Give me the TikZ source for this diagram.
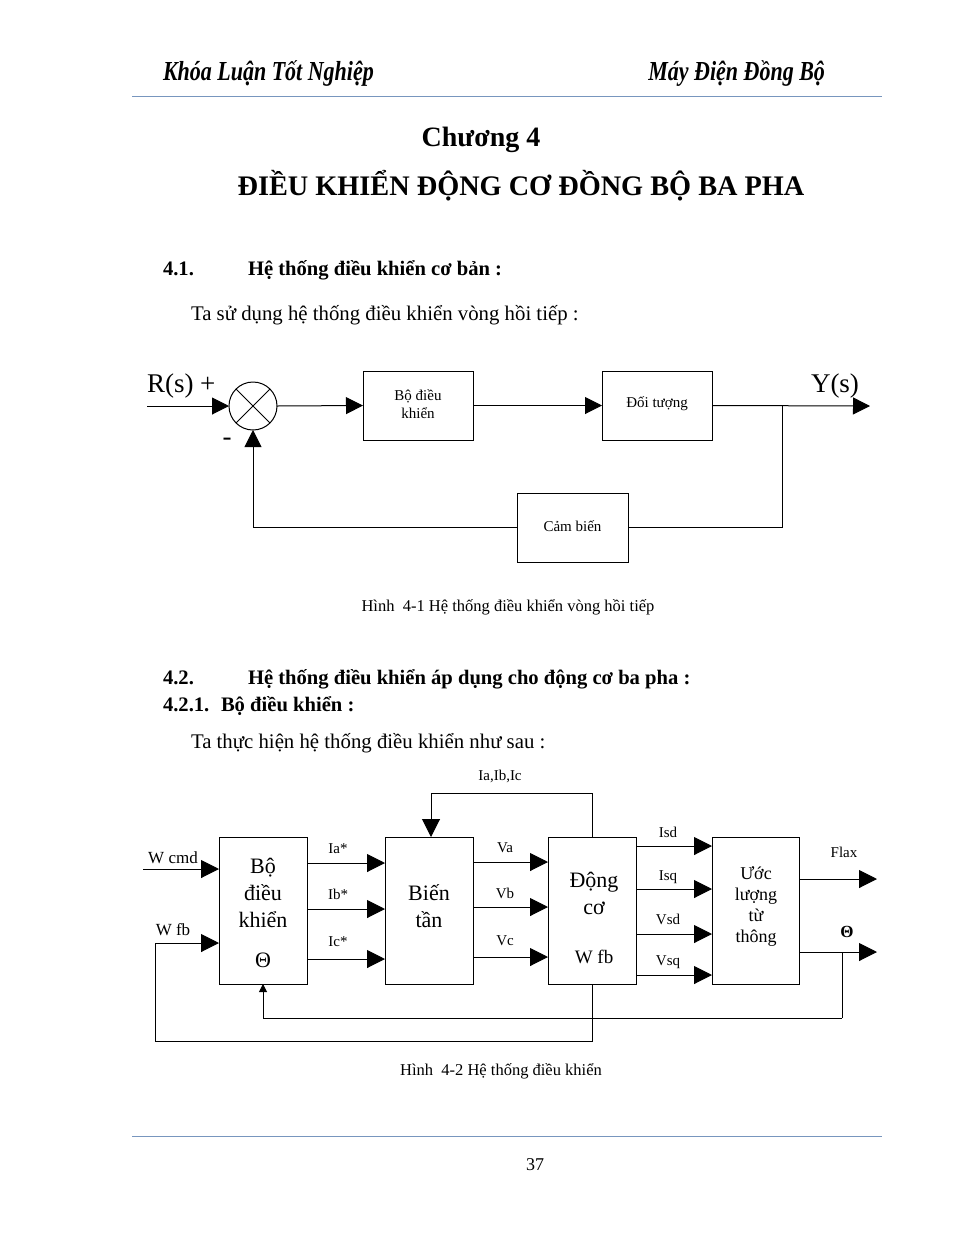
\documentclass[tikz,border=0pt]{standalone}
\usepackage{fontspec}
\setmainfont{Liberation Serif}
\newfontfamily\hdrfont[FakeStretch=0.8]{Liberation Serif}
\usetikzlibrary{arrows.meta}
\definecolor{rulecol}{RGB}{120,150,190}
\newcommand\fsz[2]{\fontsize{#1}{#2}\selectfont}
\begin{document}
\begin{tikzpicture}[x=1pt,y=-1pt,
  every node/.style={inner sep=0pt, outer sep=0pt},
  pagerule/.style={draw=rulecol, line width=1pt},
  blk/.style={draw, line width=1pt, minimum width=110pt, minimum height=69pt},
  bigblk/.style={draw, line width=1pt, minimum width=88pt, minimum height=147pt},
  wire/.style={line width=1pt},
  arr/.style={line width=1pt, -{Triangle[length=17pt,width=17pt]}},
  arrb/.style={line width=1pt, -{Triangle[length=18pt,width=18pt]}},
  arrs/.style={line width=1pt, -{Triangle[length=8pt,width=8pt]}},
  lbl/.style={font=\fsz{15}{15}},
  btxt/.style={align=center, font=\fsz{22}{27}},
  big/.style={font=\fsz{27}{27}},
]
\useasboundingbox[fill=white] (0,0) rectangle (969,1254);

% ---------- page header / footer ----------
\node[anchor=base west, font=\hdrfont\bfseries\itshape\fsz{27.5}{27.5}] (hleft) at (163,80) {Khóa Luận Tốt Nghiệp};
\node[anchor=base east, font=\hdrfont\bfseries\itshape\fsz{27.5}{27.5}] (hright) at (825,80) {Máy Điện Đồng Bộ};
\draw[pagerule] (132,96) -- (882,96);
\draw[pagerule] (132,1136) -- (882,1136);
\node[anchor=base, font=\fsz{18}{18}] (pnum) at (535,1170) {37};

% ---------- titles and text ----------
\node[anchor=base, font=\bfseries\fsz{28}{28}] (chap) at (481,146) {Chương 4};
\node[anchor=base, font=\bfseries\fsz{28.3}{28.3}] (title) at (521,195) {ĐIỀU KHIỂN ĐỘNG CƠ ĐỒNG BỘ BA PHA};
\node[anchor=base west, font=\bfseries\fsz{20.6}{20.6}] (s41n) at (163,275) {4.1.};
\node[anchor=base west, font=\bfseries\fsz{20.6}{20.6}] (s41) at (248,275) {Hệ thống điều khiển cơ bản :};
\node[anchor=base west, font=\fsz{20.8}{20.8}] (p1) at (191,320) {Ta sử dụng hệ thống điều khiển vòng hồi tiếp :};
\node[anchor=base west, font=\bfseries\fsz{20.6}{20.6}] (s42n) at (163,684) {4.2.};
\node[anchor=base west, font=\bfseries\fsz{20.6}{20.6}] (s42) at (248,684) {Hệ thống điều khiển áp dụng cho động cơ ba pha :};
\node[anchor=base west, font=\bfseries\fsz{20.6}{20.6}] (s421n) at (163,711) {4.2.1.};
\node[anchor=base west, font=\bfseries\fsz{20.6}{20.6}] (s421) at (221,711) {Bộ điều khiển :};
\node[anchor=base west, font=\fsz{20.8}{20.8}] (p2) at (191,748) {Ta thực hiện hệ thống điều khiển như sau :};

% ---------- figure 4-1 ----------
\node[circle, draw, line width=1pt, minimum size=48pt] (sum) at (253,406) {};
\draw[wire] (sum.north west) -- (sum.south east);
\draw[wire] (sum.north east) -- (sum.south west);
\node[blk] (b1) at (418,405.5) {};
\node[align=center, font=\fsz{15}{18}] (b1t) at (418,404) {Bộ điều\\khiển};
\node[blk] (b2) at (657,405.5) {};
\node[font=\fsz{15}{15}] (b2t) at (657,404) {Đối tượng};
\node[blk, minimum width=111pt] (b3) at (572.5,527.5) {};
\node[font=\fsz{15}{15}] (b3t) at (572.5,526) {Cảm biến};
\coordinate (rin) at (147,406);
\coordinate (yout) at (870,406);
\coordinate (br) at (782,406);
\draw[arr] (rin) -- (sum.west);
\draw[arr] (sum.east) -- (b1.west);
\draw[arr] (b1.east) -- (b2.west);
\draw[arr] (b2.east) -- (yout);
\draw[wire] (br) |- (b3.east);
\draw[arr] (b3.west) -| (sum.south);
\node[anchor=base west, big] (rs) at (147,392) {R(s) +};
\node[anchor=base west, big] (ys) at (811,392) {Y(s)};
\node[big] (minus) at (227,442) {-};
\node[anchor=base, font=\fsz{16.5}{16.5}] (cap1) at (508,611) {Hình~ 4-1 Hệ thống điều khiển vòng hồi tiếp};

% ---------- figure 4-2 ----------
\node[bigblk] (A) at (263,910.5) {};
\node[bigblk] (B) at (429,910.5) {};
\node[bigblk] (C) at (592,910.5) {};
\node[bigblk, minimum width=87pt] (D) at (755.5,910.5) {};
\node[btxt] (At) at (263,893) {Bộ\\điều\\khiển};
\node[btxt] (Ath) at (263,960) {Θ};
\node[btxt] (Bt) at (429,906) {Biến\\tần};
\node[btxt] (Ct) at (594,893) {Động\\cơ};
\node[font=\fsz{19}{19}] (Cw) at (594,957) {W fb};
\node[align=center, font=\fsz{18}{21}] (Dt) at (756,906) {Ước\\lượng\\từ\\thông};

\coordinate (wc) at (143,869);
\coordinate (fbL) at (155,1041);
\coordinate (fbin) at (155,943);
\coordinate (iab) at (431,793);
\coordinate (thbr) at (842,952);
\coordinate (thlow) at (842,1018);
\coordinate (flx) at (877,879);
\coordinate (tho) at (877,952);

\draw[arrb] (wc) -- (A.west |- wc);
\draw[arrb] (C.south) |- (fbL) -- (fbin) -- (A.west |- fbin);
\draw[arrb] (C.north) |- (iab) -- (B.north -| iab);
\draw[arrs] (thlow) -| (A.south);
\draw[wire] (thbr) -- (thlow);
\draw[arrb] (D.east |- flx) -- (flx);
\draw[arrb] (D.east |- tho) -- (tho);

\foreach \yy in {863, 909, 959}
  \draw[arrb] (A.east |- 0,\yy) -- (B.west |- 0,\yy);
\foreach \yy in {862, 907, 957}
  \draw[arrb] (B.east |- 0,\yy) -- (C.west |- 0,\yy);
\foreach \yy in {846, 889, 934, 975}
  \draw[arrb] (C.east |- 0,\yy) -- (D.west |- 0,\yy);

\node[lbl] (lia) at (338,849) {Ia*};
\node[lbl] (lib) at (338,894) {Ib*};
\node[lbl] (lic) at (338,942) {Ic*};
\node[lbl] (lva) at (505,848) {Va};
\node[lbl] (lvb) at (505,893) {Vb};
\node[lbl] (lvc) at (505,941) {Vc};
\node[lbl] (lisd) at (668,832) {Isd};
\node[lbl] (lisq) at (668,877) {Isq};
\node[lbl] (lvsd) at (668,919) {Vsd};
\node[lbl] (lvsq) at (668,962) {Vsq};
\node[lbl] (lflx) at (844,852) {Flax};
\node[font=\bfseries\fsz{17}{17}] (lth) at (847,932) {Θ};
\node[lbl] (liab) at (500,776) {Ia,Ib,Ic};
\node[font=\fsz{17}{17}] (lwc) at (173,858) {W cmd};
\node[font=\fsz{17}{17}] (lwf) at (173,930) {W fb};
\node[anchor=base, font=\fsz{16.5}{16.5}] (cap2) at (501,1075) {Hình~ 4-2 Hệ thống điều khiển};
\end{tikzpicture}
\end{document}
